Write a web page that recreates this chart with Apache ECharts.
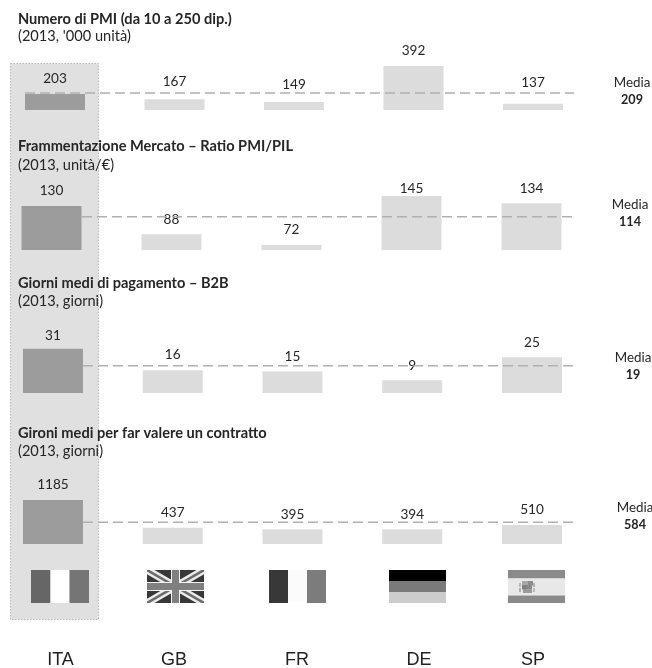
<!DOCTYPE html>
<html>
<head>
<meta charset="utf-8">
<style>html,body{margin:0;padding:0;background:#fff}#chart{width:652px;height:668px}</style>
<script src="https://cdn.jsdelivr.net/npm/echarts@6/dist/echarts.min.js"></script>
</head>
<body>
<div id="chart"></div>
<script>
// Country comparison: four stacked panels sharing the same five countries.
const countries = ['ITA', 'GB', 'FR', 'DE', 'SP'];

const pmiCount = [203, 167, 149, 392, 137];
const fragmentation = [130, 88, 72, 145, 134];
const paymentDays = [31, 16, 15, 9, 25];
const enforcementDays = [1185, 437, 395, 394, 510];
const panelValues = [pmiCount, fragmentation, paymentDays, enforcementDays];

const averages = [209, 114, 19, 584];

const panelTitles = [
  'Numero di PMI (da 10 a 250 dip.)',
  'Frammentazione Mercato – Ratio PMI/PIL',
  'Giorni medi di pagamento – B2B',
  'Gironi medi per far valere un contratto'
];
const panelUnits = ["(2013, '000 unità)", '(2013, unità/€)', '(2013, giorni)', '(2013, giorni)'];

// Value ranges of the hidden y axes (the first two are truncated).
const axisMin = [95, 64.5, 0, 0];
const axisMax = [432.5, 153.9, 35, 1345];

// Pixel frame of each panel.
const frames = [
  { left: -4.75, width: 597.5, top: 60, height: 50, lineFrom: 25, lineTo: 574, titleY: 19, unitY: 36, mediaX: 632, mediaY: 83 },
  { left: -8.5, width: 600, top: 190, height: 60, lineFrom: 82, lineTo: 572, titleY: 146, unitY: 165, mediaX: 630, mediaY: 205 },
  { left: -6.9, width: 598.75, top: 343, height: 50, lineFrom: 83, lineTo: 576, titleY: 283, unitY: 301, mediaX: 633, mediaY: 358 },
  { left: -6.9, width: 598.75, top: 494, height: 50, lineFrom: 83, lineTo: 578, titleY: 433, unitY: 451, mediaX: 635, mediaY: 508 }
];

// Per-label vertical nudges, used where a number sits closer to or farther from its bar.
const labelNudge = [
  [0, -3, -2, 0, -6],
  [0, 0, 0, 8, 0],
  [2, -1, 0, 0, 0],
  [0, 0, 0, 0, 0]
];

const flagX = [31, 147, 269, 389, 508];
const codeX = [60.5, 174, 297, 419, 533];

const textFont = 'Lato, "Open Sans", sans-serif';
const textColor = '#262626';

function textEl(text, x, y, size, weight, align, font, color) {
  return {
    type: 'text', z: 5, x, y,
    style: { text, fontSize: size, fontWeight: weight || 'normal', fontFamily: font || textFont,
      fill: color || textColor, align: align || 'left', verticalAlign: 'middle' }
  };
}

function rectEl(x, y, w, h, fill) {
  return { type: 'rect', z: 1, shape: { x, y, width: w, height: h }, style: { fill } };
}

function polyEl(points, fill) {
  return { type: 'polygon', z: 1, shape: { points }, style: { fill } };
}

// Diagonal bands of the union flag, kept inside the flag's rectangle.
function unionDiagonals(x, y, w, h, d, fill) {
  const e = d * h / w;
  return [
    polyEl([[x, y], [x + d, y], [x + w, y + h - e], [x + w, y + h], [x + w - d, y + h], [x, y + e]], fill),
    polyEl([[x + w, y], [x + w, y + e], [x + d, y + h], [x, y + h], [x, y + h - e], [x + w - d, y]], fill)
  ];
}

function flagElements() {
  const y = 570, h = 33, w = 57, out = [];
  const third = w / 3;
  // Italy
  out.push(rectEl(flagX[0], y, 19.5, h, '#666666'), rectEl(flagX[0] + 19.5, y, 19, h, '#ffffff'),
    rectEl(flagX[0] + 38.5, y, 19.5, h, '#757575'));
  // Great Britain
  const gx = flagX[1];
  out.push(rectEl(gx, y, w, h, '#383838'));
  out.push(...unionDiagonals(gx, y, w, h, 7.5, '#ececec'));
  out.push(...unionDiagonals(gx, y, w, h, 2.5, '#6c6c6c'));
  out.push(rectEl(gx + 24, y, 9, h, '#f4f4f4'), rectEl(gx, y + 12, w, 9, '#f4f4f4'));
  out.push(rectEl(gx + 25, y, 7, h, '#808080'), rectEl(gx, y + 13, w, 7, '#808080'));
  // France
  out.push(rectEl(flagX[2], y, third, h, '#383838'), rectEl(flagX[2] + third, y, third, h, '#fbfbfb'),
    rectEl(flagX[2] + 2 * third, y, third, h, '#7c7c7c'));
  // Germany
  out.push(rectEl(flagX[3], y, w, 11.5, '#000000'), rectEl(flagX[3], y + 11.5, w, 10.5, '#7a7a7a'),
    rectEl(flagX[3], y + 22, w, 11, '#cccccc'));
  // Spain, with a small speckled crest
  const sx = flagX[4];
  out.push(rectEl(sx, y, w, 8.5, '#8a8a8a'), rectEl(sx, y + 8.5, w, 17, '#e8e8e8'), rectEl(sx, y + 25.5, w, 7.5, '#8a8a8a'));
  const crest = [
    [14, 11, 6, '#a8a8a8'], [20, 11, 5, '#8c8c8c'], [14, 15, 5, '#808080'], [19, 15, 5, '#8a8a8a'],
    [15, 19, 9, '#9a9a9a'], [11, 13, 2, '#b8b8b8'], [25, 13, 2, '#b0b0b0'], [11, 18, 2, '#b0b0b0'], [25, 18, 2, '#b8b8b8']
  ];
  crest.forEach(([dx, dy, s, c]) => out.push(rectEl(sx + dx, y + dy, s, s === 9 ? 4 : s === 2 ? 4 : 4.5, c)));
  return out;
}

const graphicElements = [
  // Highlight column behind the Italian figures
  {
    type: 'rect', z: -1,
    shape: { x: 10.5, y: 63.5, width: 88, height: 556 },
    style: { fill: '#e0e0e0', stroke: '#b8b8b8', lineWidth: 1, lineDash: [1.5, 1.5] }
  },
  ...flagElements()
];

frames.forEach((f, i) => {
  graphicElements.push(
    textEl(panelTitles[i], 18, f.titleY, 14.6, 'bold'),
    textEl(panelUnits[i], 18, f.unitY, 14.6),
    textEl('Media', f.mediaX, f.mediaY, 13.4, 'normal', 'center'),
    textEl(String(averages[i]), f.mediaX, f.mediaY + 17, 12.6, 'bold', 'center')
  );
});

countries.forEach((c, i) => {
  graphicElements.push(textEl(c, codeX[i], 660, 18, 'normal', 'center', '"Liberation Sans", Arial, sans-serif', '#222222'));
});

const grids = [], xAxes = [], yAxes = [], seriesList = [];

frames.forEach((f, i) => {
  grids.push({ left: f.left, width: f.width, top: f.top, height: f.height, outerBoundsMode: 'none' });
  xAxes.push({ type: 'category', gridIndex: i, data: countries, show: false });
  yAxes.push({ type: 'value', gridIndex: i, min: axisMin[i], max: axisMax[i], show: false });

  seriesList.push({
    type: 'bar',
    xAxisIndex: i,
    yAxisIndex: i,
    barWidth: 60,
    silent: true,
    z: 2,
    data: panelValues[i].map((v, k) => ({
      value: v,
      itemStyle: { color: k === 0 ? '#9c9c9c' : '#dcdcdc' },
      label: {
        show: true,
        position: 'top',
        distance: 8,
        offset: [0, labelNudge[i][k]],
        fontFamily: textFont,
        fontSize: 13.6,
        color: textColor
      }
    }))
  });

  // Dashed average line across the panel
  seriesList.push({
    type: 'custom',
    xAxisIndex: i,
    yAxisIndex: i,
    silent: true,
    z: 3,
    data: [[0, averages[i]]],
    encode: { x: 0, y: 1 },
    renderItem: function (params, api) {
      const y = api.coord([api.value(0), api.value(1)])[1];
      return {
        type: 'line',
        shape: { x1: f.lineFrom, y1: y, x2: f.lineTo, y2: y },
        style: { stroke: '#b0b0b0', lineWidth: 1.5, lineDash: [10, 5], fill: null }
      };
    }
  });
});

const chart = echarts.init(document.getElementById('chart'), null, { renderer: 'canvas' });
chart.setOption({
  animation: false,
  backgroundColor: '#ffffff',
  grid: grids,
  xAxis: xAxes,
  yAxis: yAxes,
  graphic: { elements: graphicElements },
  series: seriesList
});
</script>
</body>
</html>
